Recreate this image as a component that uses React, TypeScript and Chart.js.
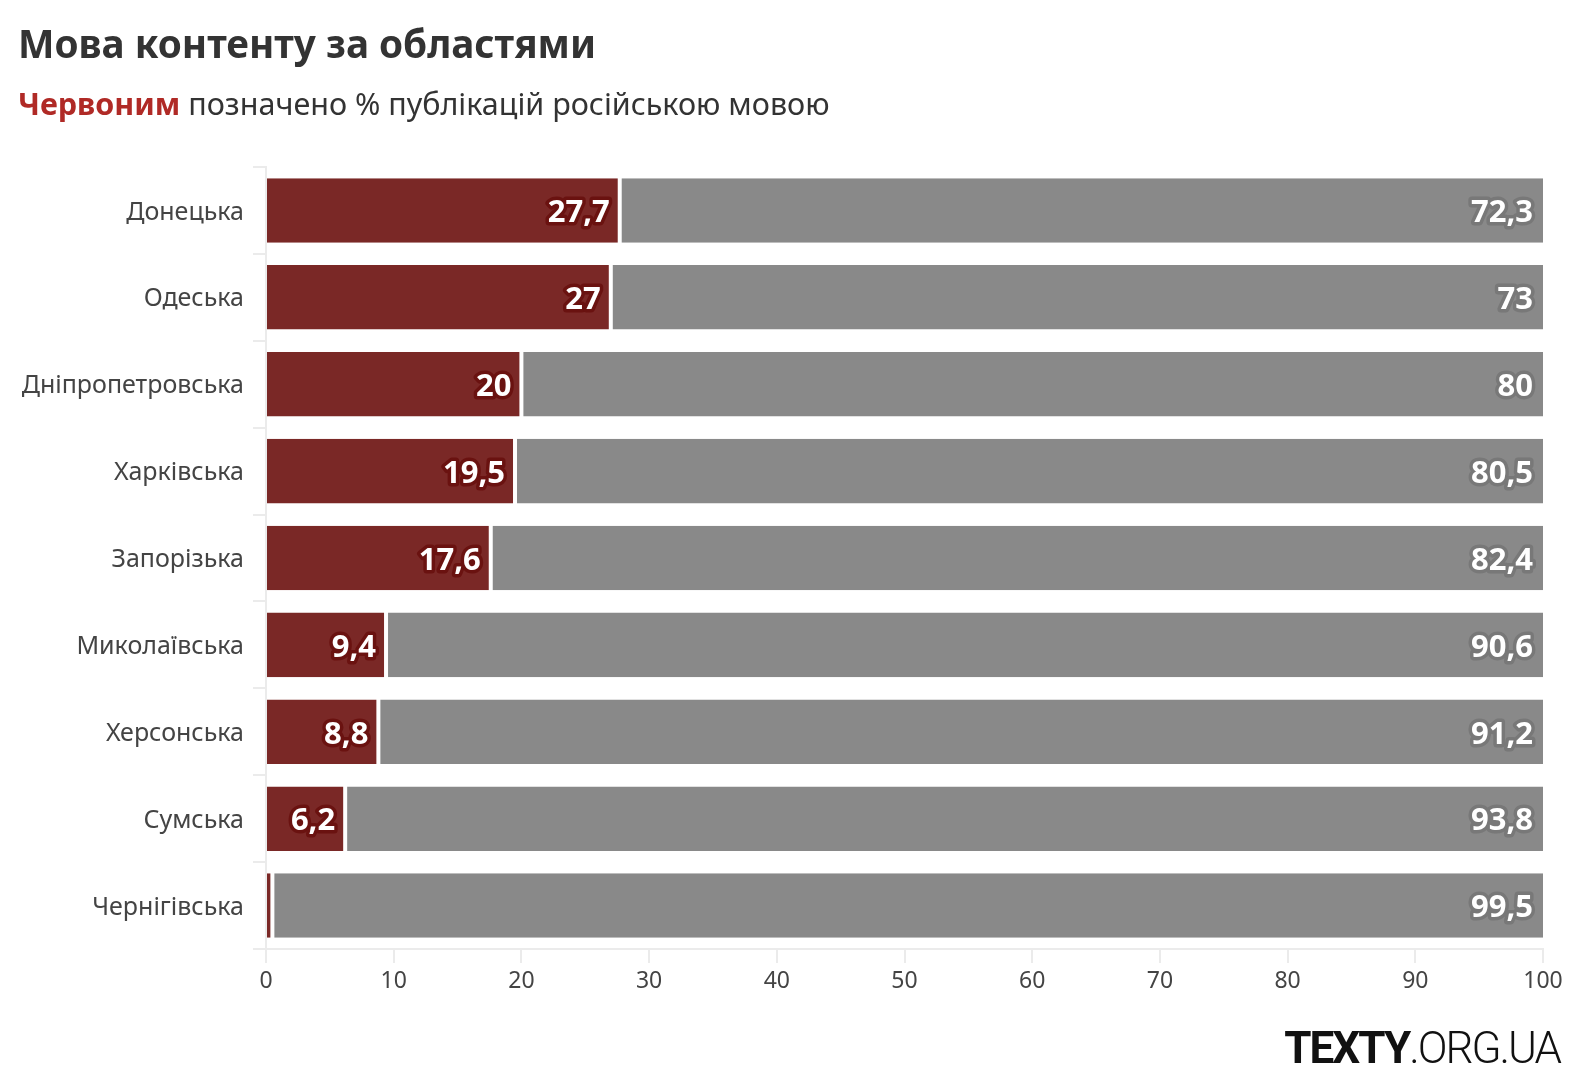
import React, { useEffect, useRef } from "react";
import { Chart, registerables } from "chart.js";

Chart.register(...registerables);

const categories = [
  "Донецька",
  "Одеська",
  "Дніпропетровська",
  "Харківська",
  "Запорізька",
  "Миколаївська",
  "Херсонська",
  "Сумська",
  "Чернігівська",
];
const russianShare = [27.7, 27, 20, 19.5, 17.6, 9.4, 8.8, 6.2, 0.5];
const otherShare = [72.3, 73, 80, 80.5, 82.4, 90.6, 91.2, 93.8, 99.5];
const xTicks = [0, 10, 20, 30, 40, 50, 60, 70, 80, 90, 100];

const FONT = "'Noto Sans', 'Open Sans', sans-serif";
const LOGO_FONT = "Roboto, Inter, sans-serif";
const RED = "#7a2826";
const GRAY = "#898989";

const fmt = (v: number) => String(v).replace(".", ",");

const labelPlugin = {
  id: "barLabels",
  afterDatasetsDraw(chart: any) {
    const ctx = chart.ctx;
    ctx.save();
    ctx.font = `bold 31px ${FONT}`;
    ctx.textAlign = "right";
    ctx.textBaseline = "middle";
    ctx.lineJoin = "round";
    chart.data.datasets.forEach((ds: any, di: number) => {
      const meta = chart.getDatasetMeta(di);
      meta.data.forEach((bar: any, i: number) => {
        const v = ds.data[i];
        if (v < 1) return;
        const txt = fmt(v);
        const x = bar.x - 10;
        const y = bar.y + 3;
        ctx.lineWidth = 7;
        ctx.strokeStyle = di === 0 ? "#6a1210" : "#787878";
        ctx.strokeText(txt, x, y);
        ctx.fillStyle = "#ffffff";
        ctx.fillText(txt, x, y);
      });
    });
    ctx.restore();
  },
};

export default function App() {
  const ref = useRef<HTMLCanvasElement | null>(null);

  useEffect(() => {
    if (!ref.current) return;
    const chart = new Chart(ref.current, {
      type: "bar",
      data: {
        labels: categories,
        datasets: [
          {
            data: russianShare,
            backgroundColor: RED,
            borderColor: "#ffffff",
            borderWidth: { right: 2, left: 0, top: 0, bottom: 0 },
            borderSkipped: false,
            barPercentage: 0.743,
            categoryPercentage: 1,
          },
          {
            data: otherShare,
            backgroundColor: GRAY,
            borderColor: "#ffffff",
            borderWidth: { left: 2, right: 0, top: 0, bottom: 0 },
            borderSkipped: false,
            barPercentage: 0.743,
            categoryPercentage: 1,
          },
        ],
      },
      options: {
        indexAxis: "y",
        animation: false,
        responsive: false,
        maintainAspectRatio: false,
        layout: { padding: { left: 0, right: 39, top: 167, bottom: 89 } },
        plugins: {
          legend: { display: false },
          tooltip: { enabled: false },
        },
        scales: {
          x: {
            stacked: true,
            min: 0,
            max: 100,
            afterBuildTicks(scale: any) {
              scale.ticks = xTicks.map((v) => ({ value: v }));
            },
            afterFit(scale: any) {
              scale.height = 50;
            },
            grid: {
              drawOnChartArea: false,
              drawTicks: true,
              tickLength: 14,
              color: "#ebebeb",
              lineWidth: 2,
            },
            border: { display: true, color: "#ebebeb", width: 2 },
            ticks: {
              padding: 5,
              color: "#444444",
              font: { family: FONT, size: 23 },
            },
          },
          y: {
            stacked: true,
            afterFit(scale: any) {
              scale.width = 266;
            },
            grid: {
              drawOnChartArea: false,
              drawTicks: true,
              tickLength: 13,
              color: "#ebebeb",
              lineWidth: 2,
            },
            border: { display: true, color: "#ebebeb", width: 2 },
            ticks: {
              padding: 9,
              labelOffset: 2,
              color: "#444444",
              font: { family: FONT, size: 25 },
            },
          },
        },
      },
      plugins: [labelPlugin],
    });
    return () => chart.destroy();
  }, []);

  return (
    <div
      style={{
        position: "absolute",
        left: 0,
        top: 0,
        width: 1582,
        height: 1088,
        background: "#ffffff",
        overflow: "hidden",
        fontFamily: FONT,
      }}
    >
      <canvas
        ref={ref}
        width={1582}
        height={1088}
        style={{ position: "absolute", left: 0, top: 0, width: 1582, height: 1088 }}
      />
      <div
        style={{
          position: "absolute",
          left: 18,
          top: 20,
          fontSize: 38.7,
          fontWeight: 700,
          color: "#333333",
          whiteSpace: "nowrap",
          lineHeight: "46px",
        }}
      >
        Мова контенту за областями
      </div>
      <div
        style={{
          position: "absolute",
          left: 18,
          top: 84,
          fontSize: 30.5,
          color: "#333333",
          whiteSpace: "nowrap",
          lineHeight: "38px",
        }}
      >
        <span style={{ color: "#b02a26", fontWeight: 700 }}>Червоним</span> позначено % публікацій російською мовою
      </div>
      <div
        style={{
          position: "absolute",
          right: 22,
          top: 1021,
          fontSize: 44,
          color: "#111111",
          whiteSpace: "nowrap",
          lineHeight: "54px",
          letterSpacing: -2,
          fontFamily: LOGO_FONT,
        }}
      >
        <span style={{ fontWeight: 700 }}>TEXTY</span>
        <span style={{ fontWeight: 300 }}>.ORG.UA</span>
      </div>
    </div>
  );
}
